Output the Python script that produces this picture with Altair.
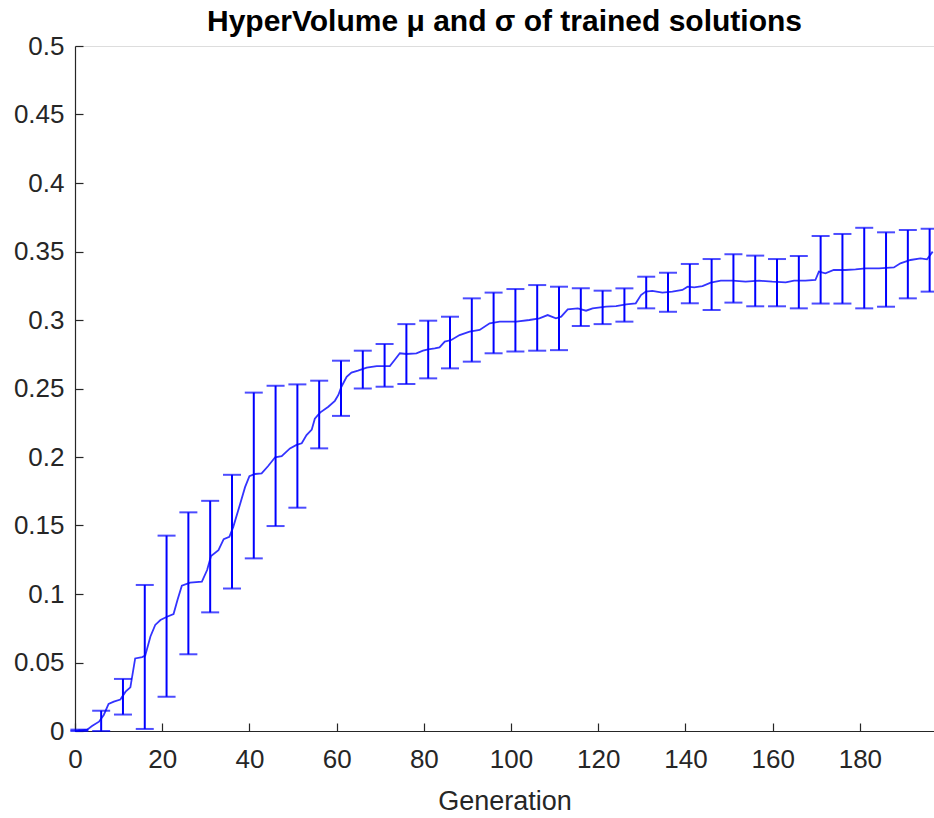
import altair as alt
import pandas as pd

# ---- data ----
line_gen = [0, 2.8, 3.9, 5.5, 6.6, 7.7, 8.9, 10.4, 11.6, 12.7, 13.8, 15.4, 16.1, 17.3, 18.4, 19.6,
            21.1, 22.6, 23.5, 24.5, 26.4, 29.1, 30.3, 31.2, 32.9, 34.1, 35.4, 36.3, 37.9, 39.0,
            40.0, 41.3, 42.8, 44.3, 45.9, 47.4, 49.3, 50.8, 52.0, 53.1, 54.3, 55.0, 56.2, 58.1,
            59.6, 60.4, 61.1, 62.3, 63.4, 64.9, 66.9, 69.2, 72.2, 73.3, 74.5, 76.0, 78.3, 79.8,
            81.0, 82.5, 83.6, 84.8, 86.3, 88.2, 90.5, 92.8, 95.1, 97.4, 101.2, 104.2, 106.5,
            108.4, 110.3, 111.5, 113.0, 115.3, 117.2, 118.7, 121.8, 124.1, 126.4, 128.6, 129.8,
            130.9, 132.4, 134.7, 137.0, 139.3, 140.5, 142.0, 143.9, 145.8, 148.1, 150.8, 153.8,
            156.9, 159.9, 163.0, 164.9, 167.5, 169.8, 170.6, 172.1, 174.0, 176.7, 179.0, 181.3,
            184.4, 187.8, 189.3, 191.6, 193.9, 195.4, 196.7]
line_val = [0.0, 0.001, 0.0036, 0.0068, 0.0117, 0.0197, 0.0214, 0.023, 0.0287, 0.0319, 0.053,
            0.054, 0.055, 0.069, 0.0774, 0.081, 0.0834, 0.0854, 0.0956, 0.106, 0.1083, 0.109,
            0.1175, 0.1277, 0.132, 0.140, 0.1418, 0.149, 0.166, 0.178, 0.186, 0.1876, 0.188,
            0.1934, 0.1998, 0.2007, 0.2063, 0.2088, 0.21, 0.216, 0.220, 0.228, 0.2324, 0.2367,
            0.241, 0.2453, 0.2513, 0.2586, 0.2616, 0.263, 0.2652, 0.2664, 0.2664, 0.2708, 0.2757,
            0.2752, 0.2757, 0.2776, 0.2786, 0.2793, 0.28, 0.2842, 0.2854, 0.289, 0.2915, 0.2927,
            0.2976, 0.2988, 0.2988, 0.3, 0.3012, 0.3036, 0.3012, 0.3024, 0.3078, 0.3085, 0.3068,
            0.3085, 0.3097, 0.3102, 0.3114, 0.3122, 0.3182, 0.3207, 0.3212, 0.32, 0.3207, 0.3219,
            0.3243, 0.3238, 0.3248, 0.3272, 0.3287, 0.3287, 0.328, 0.3287, 0.328, 0.3275, 0.3287,
            0.3287, 0.3292, 0.3353, 0.3341, 0.3365, 0.3365, 0.337, 0.3377, 0.3377, 0.3384,
            0.3414, 0.3438, 0.345, 0.3443, 0.3499]

eb_gen = [1, 6, 11, 16, 21, 26, 31, 36, 41, 46, 51, 56, 61, 66, 71, 76, 81, 86, 91, 96, 101,
          106, 111, 116, 121, 126, 131, 136, 141, 146, 151, 156, 161, 166, 171, 176, 181, 186,
          191, 196]
eb_low = [0.0, 0.0, 0.012, 0.0015, 0.025, 0.056, 0.0866, 0.104, 0.126, 0.1496, 0.163, 0.2063,
          0.230, 0.250, 0.2513, 0.2533, 0.2574, 0.2647, 0.2696, 0.2757, 0.277, 0.2776, 0.278,
          0.2956, 0.297, 0.2988, 0.3085, 0.306, 0.3122, 0.3073, 0.3127, 0.310, 0.310, 0.3085,
          0.312, 0.312, 0.3085, 0.3097, 0.3158, 0.3207]
eb_high = [0.001, 0.0148, 0.038, 0.1066, 0.1426, 0.1596, 0.168, 0.187, 0.247, 0.252, 0.253,
           0.2557, 0.2703, 0.2776, 0.2825, 0.297, 0.2995, 0.3024, 0.3158, 0.320, 0.3226, 0.3255,
           0.3243, 0.3231, 0.3214, 0.3231, 0.3316, 0.3345, 0.3409, 0.3445, 0.348, 0.347, 0.3445,
           0.3467, 0.3613, 0.3628, 0.3673, 0.364, 0.3657, 0.3666]

x_ticks = [0, 20, 40, 60, 80, 100, 120, 140, 160, 180]
y_ticks = [0, 0.05, 0.1, 0.15, 0.2, 0.25, 0.3, 0.35, 0.4, 0.45, 0.5]

title_text = "HyperVolume μ and σ of trained solutions"
x_title = "Generation"

# ---- chart ----
line_df = pd.DataFrame({"gen": line_gen, "hv": line_val})
eb_df = pd.DataFrame({"gen": eb_gen, "lo": eb_low, "hi": eb_high})

W, H = 859, 685
AX = "#262626"
FONT = "Liberation Sans"
BLUE = "#0000ff"

xscale = alt.Scale(domain=[0, 197], nice=False, zero=False)
yscale = alt.Scale(domain=[0, 0.5], nice=False)

line = alt.Chart(line_df).mark_line(color=BLUE, strokeWidth=1.8, opacity=0.8).encode(
    x=alt.X("gen:Q", scale=xscale,
            axis=alt.Axis(values=x_ticks, title=x_title, tickSize=0, labelPadding=15,
                          domainColor=AX, domainWidth=1.2, labelColor=AX, labelFont=FONT,
                          labelFontSize=26, titleFont=FONT, titleFontSize=27,
                          titleFontWeight="normal", titleColor=AX, titlePadding=16,
                          grid=False, labelFlush=False)),
    y=alt.Y("hv:Q", scale=yscale,
            axis=alt.Axis(values=y_ticks, format=".2~f", title="", tickSize=0, labelPadding=11,
                          domainColor=AX, domainWidth=1.2, labelColor=AX, labelFont=FONT,
                          labelFontSize=26, grid=False, labelFlush=False)),
)

# inward-pointing ticks, drawn by extra axes placed on the opposite edge
rules = alt.Chart(eb_df).mark_rule(color=BLUE, strokeWidth=2).encode(
    x=alt.X("gen:Q", scale=xscale,
            axis=alt.Axis(orient="top", offset=-H, values=x_ticks, labels=False, domain=False,
                          tickSize=8, tickColor=AX, tickWidth=1.2, title="", grid=False)),
    y=alt.Y("lo:Q", scale=yscale,
            axis=alt.Axis(orient="right", offset=-W, values=y_ticks, labels=False, domain=False,
                          tickSize=8, tickColor=AX, tickWidth=1.2, title="", grid=False)),
    y2="hi:Q",
)

cap_lo = alt.Chart(eb_df).mark_tick(color=BLUE, orient="horizontal", size=18, thickness=2).encode(
    x=alt.X("gen:Q", scale=xscale, axis=None),
    y=alt.Y("lo:Q", scale=yscale, axis=None),
)
cap_hi = alt.Chart(eb_df).mark_tick(color=BLUE, orient="horizontal", size=18, thickness=2).encode(
    x=alt.X("gen:Q", scale=xscale, axis=None),
    y=alt.Y("hi:Q", scale=yscale, axis=None),
)

chart = alt.layer(line, rules, cap_lo, cap_hi).resolve_axis(
    x="independent", y="independent"
).properties(
    width=W, height=H,
    title=alt.TitleParams(title_text, font=FONT, fontSize=30, fontWeight="bold",
                          color="#000000", anchor="middle", offset=-4),
    autosize=alt.AutoSizeParams(type="none"),
    padding={"left": 75, "top": 46, "right": 0, "bottom": 87},
).configure_view(stroke="transparent").configure(background="white")

chart.save("out.html", embed_options={"renderer": "svg", "actions": False})
